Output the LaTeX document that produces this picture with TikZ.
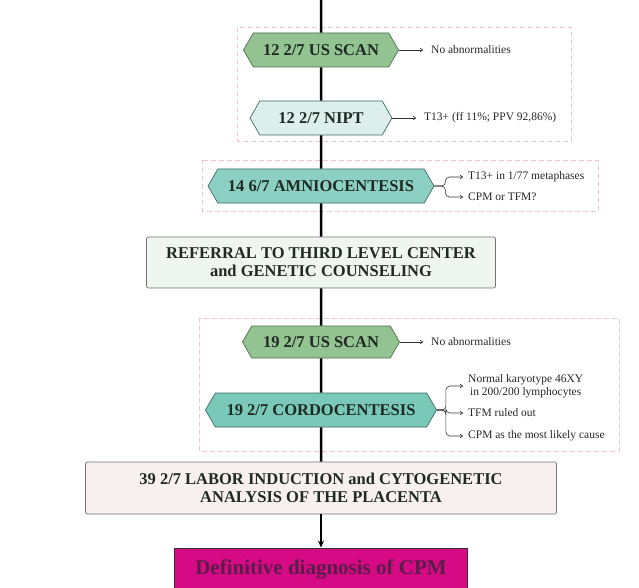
\documentclass[tikz,border=0pt]{standalone}
\usepackage{fontspec}
\setmainfont{Liberation Serif}
\usetikzlibrary{shapes.symbols,arrows.meta}
\definecolor{scangreen}{HTML}{93C391}
\definecolor{scanline}{HTML}{4E6E4C}
\definecolor{niptfill}{HTML}{DDEFEB}
\definecolor{amniofill}{HTML}{8CD0C3}
\definecolor{cordofill}{HTML}{79C8B8}
\definecolor{tealline}{HTML}{3F6A62}
\definecolor{referfill}{HTML}{EEF6EF}
\definecolor{laborfill}{HTML}{F8EFEF}
\definecolor{cpmfill}{HTML}{D60A84}
\definecolor{cpmtext}{HTML}{5A1C48}
\definecolor{framepink}{HTML}{F0C6CD}
\definecolor{darktext}{HTML}{1F2A24}

\begin{document}
\begin{tikzpicture}[x=1pt, y=-1pt,
    hexa/.style={signal, signal to=west and east, signal pointer angle=120, line width=0.7pt, inner sep=0pt, minimum height=34pt, text=darktext, font=\fontsize{16.5}{18}\selectfont\bfseries},
    stepbox/.style={draw=black!55, rounded corners=2pt, line width=0.7pt, align=center, text=darktext, font=\fontsize{16.5}{18}\selectfont\bfseries},
    note/.style={anchor=west, inner sep=1pt, text=black!85, font=\fontsize{11.5}{13}\selectfont},
    spine/.style={line width=2.5pt},
    link/.style={-{To[length=3pt,width=4pt]}, line width=0.6pt, black!80, shorten >=7pt},
    split/.style={-{To[length=3pt,width=4pt]}, line width=0.6pt, black!80, shorten >=4pt, rounded corners=4pt},
    frame/.style={draw=framepink, dash pattern=on 5pt off 3pt, line width=0.8pt}]

    \useasboundingbox (0,0) rectangle (639,588);

    % Frames
    \draw[frame] (237,27) rectangle (571,141);
    \draw[frame] (202,160) rectangle (598,211);
    \draw[frame] (199,318) rectangle (619,451);

    % Nodes
    \coordinate (top) at (321,0);
    \node (us1) [hexa, fill=scangreen, draw=scanline, minimum width=155pt] at (321,50) {12 2/7 US SCAN};
    \node (nipt) [hexa, fill=niptfill, draw=tealline, minimum width=142pt] at (321,118) {12 2/7 NIPT};
    \node (amnio) [hexa, fill=amniofill, draw=tealline, minimum width=226pt] at (321,186) {14 6/7 AMNIOCENTESIS};
    \node (refer) [stepbox, fill=referfill, minimum width=349pt, minimum height=51pt] at (321,262.5) {REFERRAL TO THIRD LEVEL CENTER\\and GENETIC COUNSELING};
    \node (us2) [hexa, fill=scangreen, draw=scanline, minimum width=157pt, minimum height=32pt] at (321,342) {19 2/7 US SCAN};
    \node (cordo) [hexa, fill=cordofill, draw=tealline, minimum width=231pt] at (321,410) {19 2/7 CORDOCENTESIS};
    \node (labor) [stepbox, fill=laborfill, minimum width=471pt, minimum height=52pt] at (321,488) {39 2/7 LABOR INDUCTION and CYTOGENETIC\\ANALYSIS OF THE PLACENTA};
    \node (final) [draw=black!80, line width=0.9pt, fill=cpmfill, text=cpmtext, minimum width=293pt, minimum height=42pt, font=\fontsize{21}{24}\selectfont\bfseries] at (321,569) {Definitive diagnosis of CPM};

    % Notes
    \node (nab1) [note] at (430,50) {No abnormalities};
    \node (ff) [note] at (423,118) {T13+ (ff 11\%; PPV 92,86\%)};
    \node (meta) [note] at (467,177) {T13+ in 1/77 metaphases};
    \node (cpmtfm) [note] at (467,197) {CPM or TFM?};
    \node (nab2) [note] at (430,342) {No abnormalities};
    \node (karyo) [note, align=center] at (467,386) {Normal karyotype 46XY\\in 200/200 lymphocytes};
    \node (tfm) [note] at (467,413) {TFM ruled out};
    \node (cause) [note] at (467,436) {CPM as the most likely cause};

    % Arrows
    \foreach \i/\j in {top/us1, us1/nipt, nipt/amnio, amnio/refer, refer/us2, us2/cordo, cordo/labor} {
        \draw[spine] (\i) -- (\j);
    }
    \draw[line width=2pt, -{Stealth[length=7pt,width=6pt]}] (labor) -- (final);

    \draw[link] (us1.east) -- (nab1.west);
    \draw[link] (nipt.east) -- (ff.west);
    \draw[link] (us2.east) -- (nab2.west);
    \foreach \j in {meta, cpmtfm} {
        \draw[split] (amnio.east) -- ++(11,0) |- (\j.west);
    }
    \foreach \j in {karyo, tfm, cause} {
        \draw[split] (cordo.east) -- ++(9,0) |- (\j.west);
    }

\end{tikzpicture}
\end{document}
